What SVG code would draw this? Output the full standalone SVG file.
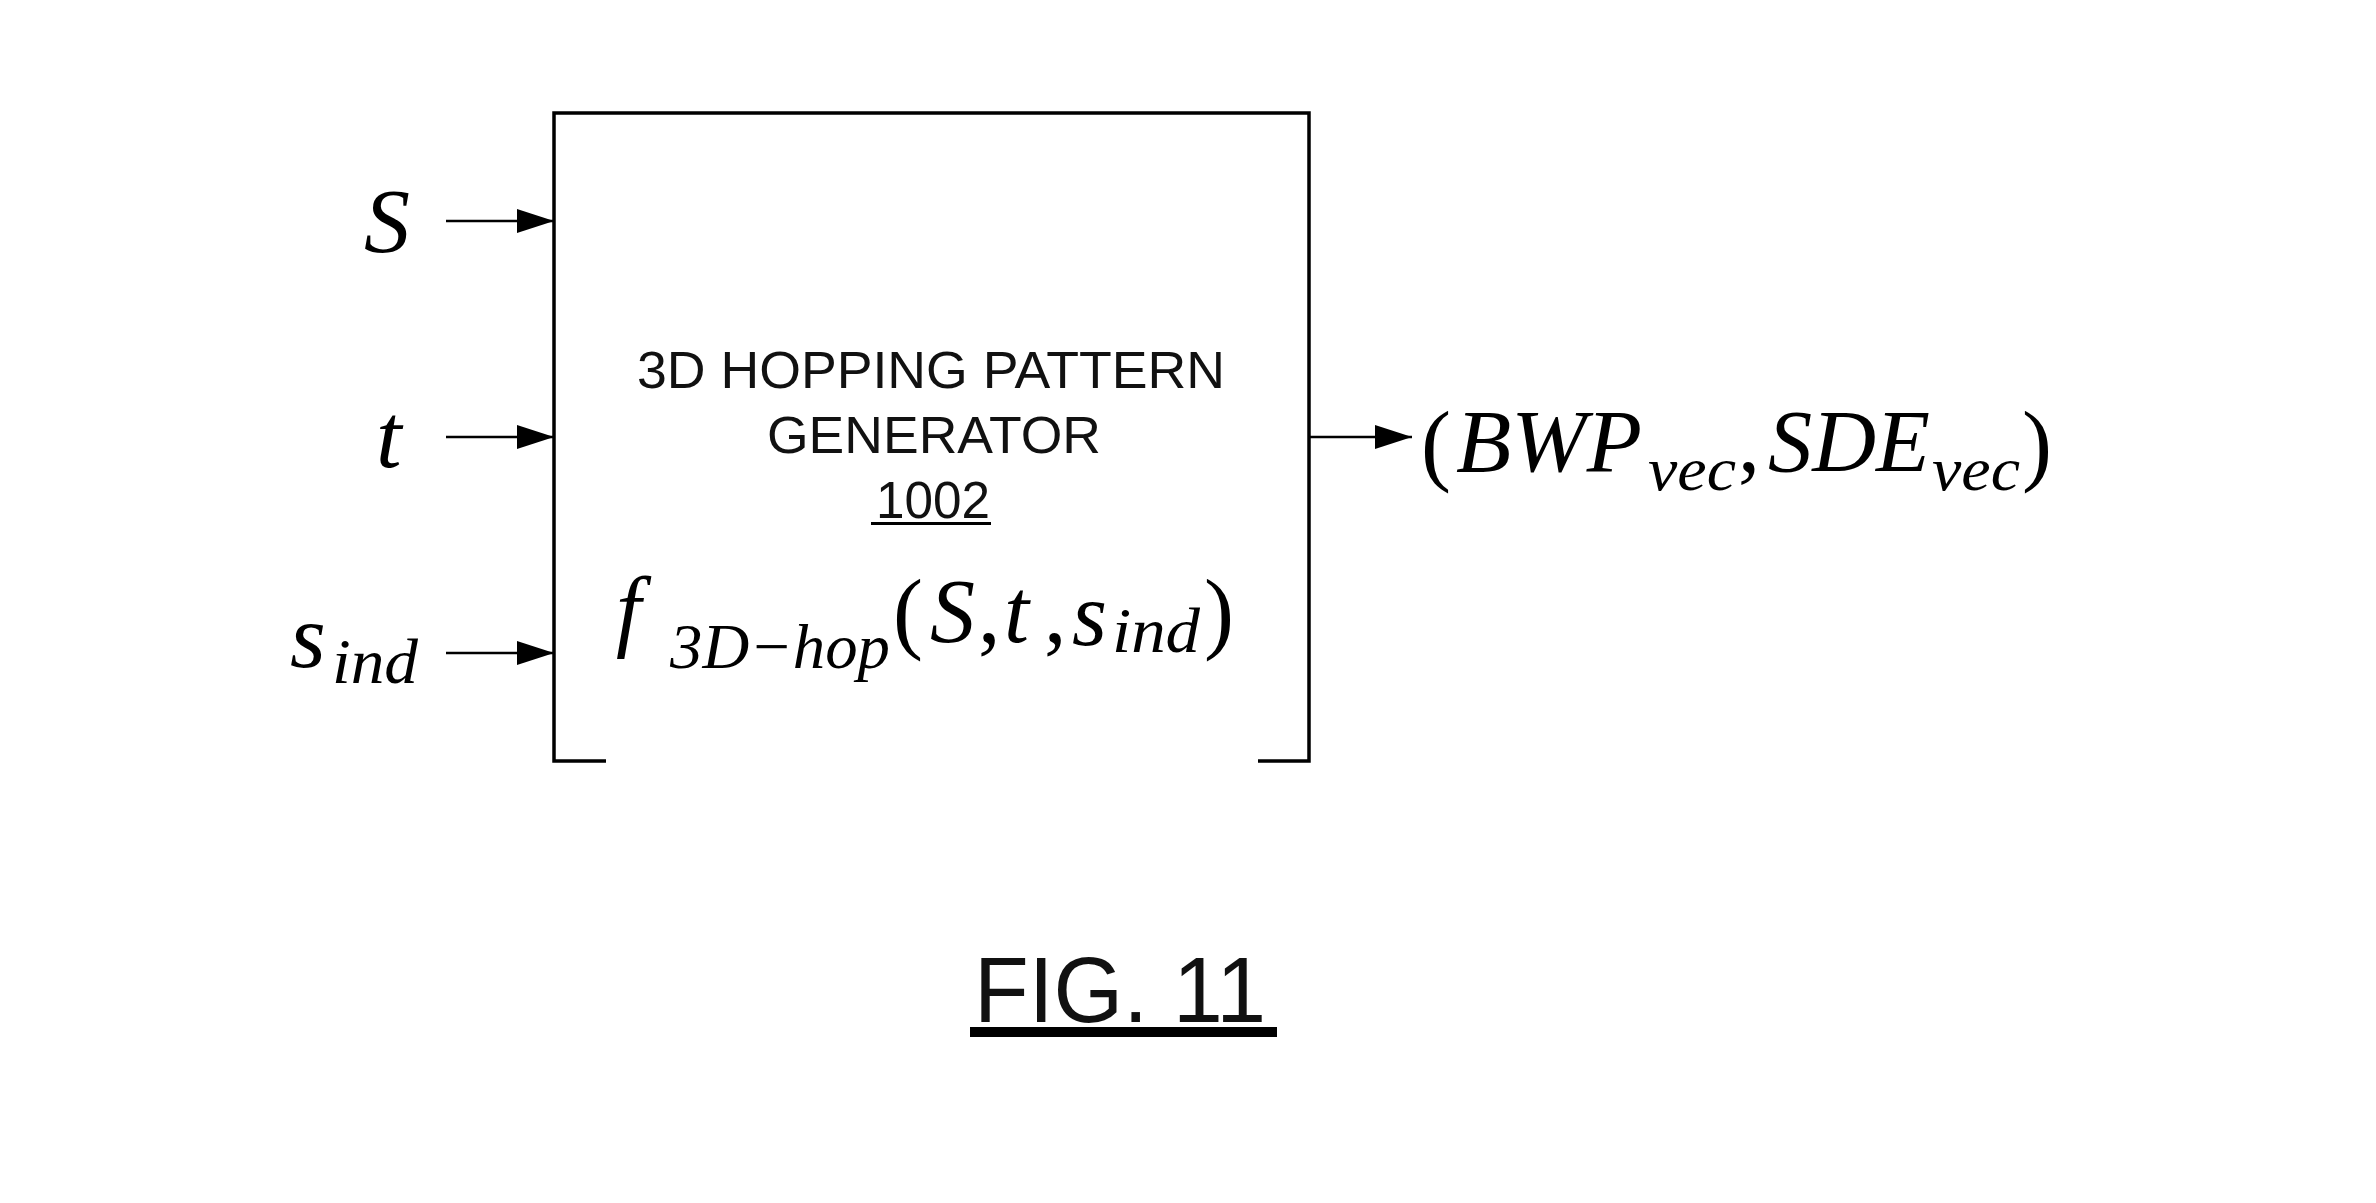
<svg xmlns="http://www.w3.org/2000/svg" width="2376" height="1203" viewBox="0 0 2376 1203">
<style>
.m{font-family:"Liberation Serif","Times New Roman",serif;font-style:italic;fill:#000}
.u{font-family:"Liberation Serif","Times New Roman",serif;font-style:normal;fill:#000}
.s{font-family:"Liberation Sans",Arial,sans-serif;fill:#111}
.ln{stroke:#000;stroke-width:2.5;fill:none}
.box{stroke:#000;stroke-width:3.5;fill:none}
</style>
<defs>
<marker id="ah" markerUnits="userSpaceOnUse" markerWidth="38" markerHeight="26" refX="37" refY="13" orient="auto">
<path d="M0,1 L37,13 L0,25 Z" fill="#000"/>
</marker>
</defs>
<rect width="2376" height="1203" fill="#fff"/>
<g id="generator">
<path class="box" d="M606,761 H554 V113 H1309 V761 H1258"/>
<text class="s" x="931" y="388" font-size="51" text-anchor="middle" textLength="588" lengthAdjust="spacingAndGlyphs">3D HOPPING PATTERN</text>
<text class="s" x="934" y="453" font-size="51" text-anchor="middle" textLength="334" lengthAdjust="spacingAndGlyphs">GENERATOR</text>
<text class="s" x="933" y="518" font-size="51" text-anchor="middle" textLength="114" lengthAdjust="spacingAndGlyphs">1002</text>
<line x1="871" y1="523.5" x2="991" y2="523.5" stroke="#000" stroke-width="3"/>
<text class="m" x="616" y="640" font-size="90">f</text>
<text class="m" x="670" y="668" font-size="64" textLength="220" lengthAdjust="spacingAndGlyphs">3D−hop</text>
<text class="u" x="893" y="642" font-size="90">(</text>
<text class="m" x="930" y="642" font-size="90">S</text>
<text class="u" x="978" y="642" font-size="90">,</text>
<text class="m" x="1004" y="642" font-size="90">t</text>
<text class="u" x="1044" y="642" font-size="90">,</text>
<text class="m" x="1072" y="645" font-size="90">s</text>
<text class="m" x="1112" y="652" font-size="64" textLength="88" lengthAdjust="spacingAndGlyphs">ind</text>
<text class="u" x="1204" y="642" font-size="90">)</text>
</g>
<g id="in-S">
<text class="m" x="364" y="252" font-size="92">S</text>
</g>
<g id="in-t">
<text class="m" x="376" y="467" font-size="92">t</text>
</g>
<g id="in-sind">
<text class="m" x="290" y="667" font-size="92">s</text>
<text class="m" x="332" y="683" font-size="64" textLength="86" lengthAdjust="spacingAndGlyphs">ind</text>
</g>
<g id="output">
<text class="u" x="1421" y="474" font-size="90">(</text>
<text class="m" x="1456" y="471" font-size="88" textLength="186" lengthAdjust="spacingAndGlyphs">BWP</text>
<text class="m" x="1648" y="490" font-size="62" textLength="88" lengthAdjust="spacingAndGlyphs">vec</text>
<text class="u" x="1738" y="471" font-size="88">,</text>
<text class="m" x="1768" y="471" font-size="88" textLength="162" lengthAdjust="spacingAndGlyphs">SDE</text>
<text class="m" x="1932" y="490" font-size="62" textLength="88" lengthAdjust="spacingAndGlyphs">vec</text>
<text class="u" x="2022" y="474" font-size="90">)</text>
</g>
<g id="connectors">
<line class="ln" x1="446" y1="221" x2="554" y2="221" marker-end="url(#ah)"/>
<line class="ln" x1="446" y1="437" x2="554" y2="437" marker-end="url(#ah)"/>
<line class="ln" x1="446" y1="653" x2="554" y2="653" marker-end="url(#ah)"/>
<line class="ln" x1="1309" y1="437" x2="1412" y2="437" marker-end="url(#ah)"/>
</g>
<g id="caption">
<text class="s" x="974" y="1022" font-size="92" fill="#000" textLength="292" lengthAdjust="spacingAndGlyphs">FIG. 11</text>
<rect x="970" y="1027" width="307" height="10" fill="#000"/>
</g>
</svg>
